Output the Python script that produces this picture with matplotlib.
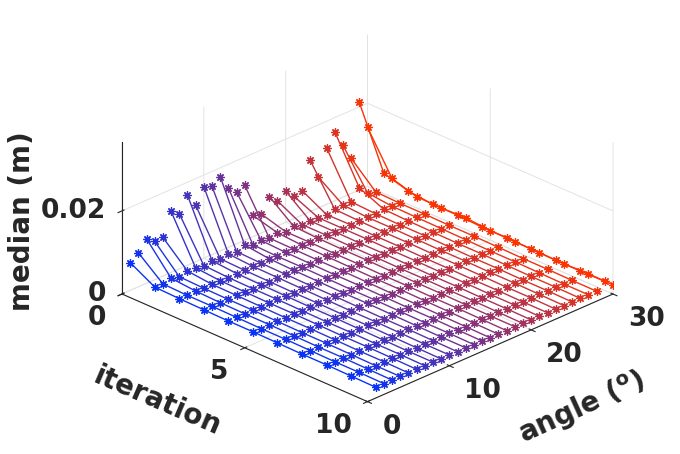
import matplotlib

matplotlib.use("Agg")
import matplotlib.pyplot as plt
import numpy as np
from mpl_toolkits.mplot3d import proj3d

# --------------------------------------------------------------------------- #
# Data: median error (m) per iteration, one row per angle (deg).
# --------------------------------------------------------------------------- #
iterations = list(range(11))
angles = list(range(1, 31))
median_m = [
    [0.0067, 0.0034, 0.0032, 0.0031, 0.0030, 0.0030, 0.0029, 0.0028, 0.0028, 0.0027, 0.0026],
    [0.0082, 0.0033, 0.0031, 0.0031, 0.0030, 0.0029, 0.0029, 0.0028, 0.0027, 0.0027, 0.0026],
    [0.0107, 0.0038, 0.0033, 0.0031, 0.0030, 0.0030, 0.0029, 0.0028, 0.0028, 0.0027, 0.0026],
    [0.0092, 0.0033, 0.0031, 0.0030, 0.0030, 0.0029, 0.0028, 0.0028, 0.0027, 0.0026, 0.0026],
    [0.0093, 0.0038, 0.0032, 0.0031, 0.0030, 0.0029, 0.0029, 0.0028, 0.0027, 0.0027, 0.0026],
    [0.0147, 0.0037, 0.0032, 0.0031, 0.0030, 0.0030, 0.0029, 0.0028, 0.0028, 0.0027, 0.0026],
    [0.0133, 0.0034, 0.0031, 0.0030, 0.0030, 0.0029, 0.0028, 0.0028, 0.0027, 0.0027, 0.0026],
    [0.0169, 0.0037, 0.0032, 0.0031, 0.0030, 0.0029, 0.0029, 0.0028, 0.0027, 0.0026, 0.0026],
    [0.0136, 0.0033, 0.0031, 0.0030, 0.0029, 0.0029, 0.0028, 0.0028, 0.0027, 0.0026, 0.0025],
    [0.0172, 0.0036, 0.0032, 0.0031, 0.0030, 0.0029, 0.0028, 0.0028, 0.0027, 0.0026, 0.0026],
    [0.0164, 0.0033, 0.0031, 0.0030, 0.0029, 0.0029, 0.0028, 0.0027, 0.0027, 0.0026, 0.0025],
    [0.0179, 0.0040, 0.0033, 0.0031, 0.0030, 0.0029, 0.0029, 0.0028, 0.0027, 0.0026, 0.0026],
    [0.0143, 0.0032, 0.0030, 0.0030, 0.0029, 0.0028, 0.0028, 0.0027, 0.0026, 0.0026, 0.0025],
    [0.0125, 0.0034, 0.0031, 0.0030, 0.0029, 0.0029, 0.0028, 0.0027, 0.0027, 0.0026, 0.0025],
    [0.0132, 0.0031, 0.0030, 0.0029, 0.0029, 0.0028, 0.0027, 0.0027, 0.0026, 0.0025, 0.0024],
    [0.0051, 0.0035, 0.0031, 0.0030, 0.0029, 0.0028, 0.0028, 0.0027, 0.0026, 0.0025, 0.0024],
    [0.0046, 0.0029, 0.0029, 0.0028, 0.0028, 0.0027, 0.0027, 0.0026, 0.0026, 0.0025, 0.0024],
    [0.0079, 0.0033, 0.0030, 0.0029, 0.0029, 0.0028, 0.0027, 0.0027, 0.0026, 0.0025, 0.0025],
    [0.0060, 0.0029, 0.0029, 0.0028, 0.0028, 0.0027, 0.0027, 0.0026, 0.0026, 0.0025, 0.0024],
    [0.0075, 0.0029, 0.0029, 0.0028, 0.0028, 0.0027, 0.0026, 0.0026, 0.0025, 0.0025, 0.0024],
    [0.0054, 0.0028, 0.0028, 0.0028, 0.0027, 0.0027, 0.0026, 0.0026, 0.0025, 0.0025, 0.0024],
    [0.0059, 0.0027, 0.0028, 0.0027, 0.0027, 0.0026, 0.0026, 0.0025, 0.0025, 0.0024, 0.0024],
    [0.0123, 0.0031, 0.0029, 0.0028, 0.0028, 0.0027, 0.0027, 0.0026, 0.0025, 0.0025, 0.0024],
    [0.0074, 0.0033, 0.0029, 0.0029, 0.0028, 0.0027, 0.0027, 0.0026, 0.0026, 0.0025, 0.0024],
    [0.0136, 0.0032, 0.0029, 0.0028, 0.0028, 0.0027, 0.0026, 0.0026, 0.0025, 0.0025, 0.0024],
    [0.0166, 0.0057, 0.0031, 0.0029, 0.0028, 0.0027, 0.0027, 0.0026, 0.0025, 0.0025, 0.0024],
    [0.0125, 0.0036, 0.0030, 0.0029, 0.0028, 0.0027, 0.0026, 0.0026, 0.0025, 0.0024, 0.0024],
    [0.0085, 0.0030, 0.0028, 0.0028, 0.0027, 0.0027, 0.0026, 0.0025, 0.0025, 0.0024, 0.0024],
    [0.0211, 0.0066, 0.0049, 0.0043, 0.0043, 0.0040, 0.0041, 0.0039, 0.0038, 0.0038, 0.0039],
    [0.0142, 0.0045, 0.0027, 0.0026, 0.0028, 0.0023, 0.0022, 0.0022, 0.0021, 0.0023, 0.0022],
]
iter_ticks = [0, 5, 10]
angle_ticks = [0, 10, 20, 30]
z_ticks = [0, 0.02]
z_ticklabels = ["0", "0.02"]

W, H = 680, 454
DARK = "#262626"
TICK_FS = 19
LABEL_FS = 20

plt.rcParams["font.family"] = "DejaVu Sans"
plt.rcParams["font.weight"] = "bold"
plt.rcParams["grid.color"] = "#e3e3e3"
plt.rcParams["grid.linewidth"] = 0.7
plt.rcParams["mathtext.default"] = "bf"

fig = plt.figure(figsize=(W / 100, H / 100), dpi=100)
side = 440
ax = fig.add_axes([(370 - side / 2) / W, (200 - side / 2) / H, side / W, side / H],
                  projection="3d")
ax.set_proj_type("ortho")
ax.view_init(elev=26, azim=-45)
ax.set_box_aspect((1, 1, 0.486))

for k, ang in enumerate(angles):
    t = ang / 30.0
    ax.plot(iterations, [ang] * len(iterations), median_m[k], "-",
            color=(t, 0.2, 1 - t), lw=1.0, marker=(8, 2, 0), ms=6, mew=0.9)

ax.set_xlim(0, 10)
ax.set_ylim(0, 30)
ax.set_zlim(0, 0.0365)
ax.set_xticks(iter_ticks)
ax.set_yticks(angle_ticks)
ax.set_zticks(z_ticks)
ax.set_xticklabels([""] * len(iter_ticks))
ax.set_yticklabels([""] * len(angle_ticks))
ax.set_zticklabels([""] * len(z_ticks))
ax.zaxis.set_ticks_position("lower")
for axis in (ax.xaxis, ax.yaxis, ax.zaxis):
    axis.set_pane_color((1, 1, 1, 0))
    axis.pane.set_edgecolor((1, 1, 1, 0))
    axis.line.set_color(DARK)
    axis.line.set_linewidth(0.8)
ax.tick_params(colors=DARK)


# --------------------------------------------------------------------------- #
# Place the 3D box so that its floor corners land where the original has them.
# --------------------------------------------------------------------------- #
def screen(x, y, z):
    xs, ys, _ = proj3d.proj_transform(x, y, z, ax.get_proj())
    return np.array(ax.transData.transform((xs, ys)))


fig.canvas.draw()
p_left = screen(0, 0, 0)
p_right = screen(10, 30, 0)
k = (613 - 122) / (p_right[0] - p_left[0])
bb = ax.get_position()
c_old = np.array([(bb.x0 + bb.x1) / 2 * W, (bb.y0 + bb.y1) / 2 * H])
c_new = np.array([122, H - 294]) - k * (p_left - c_old)
s = bb.width * W * k
ax.set_position([(c_new[0] - s / 2) / W, (c_new[1] - s / 2) / H, s / W, s / H])
fig.canvas.draw()

# tick labels, MATLAB style: flat text next to each projected tick
for v in iter_ticks:
    px, py = screen(v, 0, 0)
    fig.text((px - 16) / W, (py - 24) / H, str(v), ha="right", va="center",
             fontsize=TICK_FS, color=DARK)
for v in angle_ticks:
    px, py = screen(10, v, 0)
    fig.text((px + 15) / W, (py - 25) / H, str(v), ha="left", va="center",
             fontsize=TICK_FS, color=DARK)
for v, lab in zip(z_ticks, z_ticklabels):
    px, py = screen(0, 0, v)
    fig.text((px - 16) / W, py / H, lab, ha="right", va="center",
             fontsize=TICK_FS, color=DARK)

fig.text(22 / W, 1 - 221 / H, "median (m)", rotation=90, ha="center", va="center",
         rotation_mode="anchor", fontsize=LABEL_FS, color=DARK)
fig.text(157 / W, 1 - 401 / H, "iteration", rotation=-23.2, ha="center", va="center",
         rotation_mode="anchor", fontsize=LABEL_FS, color=DARK)
fig.text(582 / W, 1 - 408 / H, r"angle ($^{o}$)", rotation=24.5, ha="center",
         va="center", rotation_mode="anchor", fontsize=LABEL_FS, color=DARK)

fig.savefig("out.png", dpi=100)
plt.close(fig)
